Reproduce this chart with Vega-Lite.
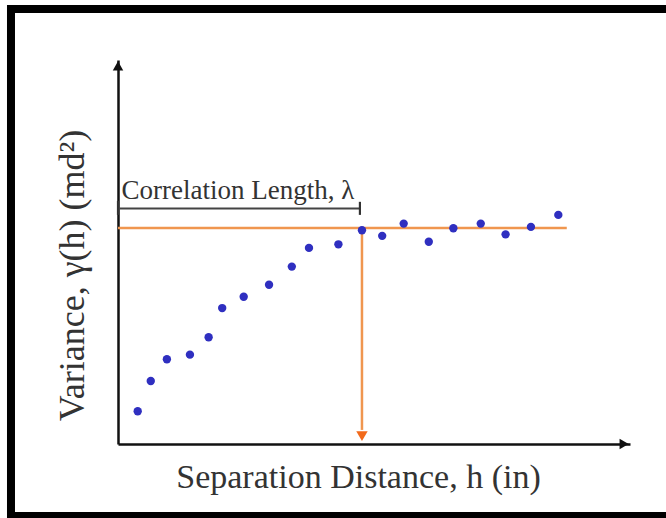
{
  "$schema": "https://vega.github.io/schema/vega-lite/v6.json",
  "width": 512,
  "height": 384,
  "autosize": {"type": "none"},
  "padding": {"left": 118, "top": 60, "right": 36, "bottom": 74},
  "background": "white",
  "config": {"view": {"stroke": null}},
  "encoding": {
    "x": {"field": "h", "type": "quantitative", "scale": {"domain": [0, 20], "nice": false, "zero": false},
      "axis": {"title": "Separation Distance, h (in)", "labels": false, "ticks": false, "grid": false,
        "domain": true, "domainColor": "#111", "domainWidth": 2.5,
        "titleFont": "Liberation Serif", "titleFontSize": 34, "titleFontWeight": "normal", "titleColor": "#333",
        "titleX": 240, "titleY": 43, "titleBaseline": "alphabetic", "titleAlign": "center"}},
    "y": {"field": "gamma", "type": "quantitative", "scale": {"domain": [0, 15], "nice": false, "zero": false},
      "axis": {"title": "Variance, γ(h) (md²)", "labels": false, "ticks": false, "grid": false,
        "domain": true, "domainColor": "#111", "domainWidth": 2.5,
        "titleFont": "Liberation Serif", "titleFontSize": 36, "titleFontWeight": "normal", "titleColor": "#333",
        "titleX": -35, "titleY": 215, "titleAngle": -90, "titleBaseline": "alphabetic", "titleAlign": "center"}}
  },
  "layer": [
    {
      "data": {"values": [{"h": -4.18, "h2": 24, "gamma": -2.81, "gamma2": 16.99}]},
      "mark": {"type": "rect", "fill": null, "stroke": "black", "strokeWidth": 8, "clip": false},
      "encoding": {"x2": {"field": "h2"}, "y2": {"field": "gamma2"}}
    },
    {
      "data": {"values": [{"h": 0, "h2": 17.53, "gamma": 8.44}]},
      "mark": {"type": "rule", "color": "#f0964f", "strokeWidth": 2.5},
      "encoding": {"x2": {"field": "h2"}}
    },
    {
      "data": {"values": [{"h": 9.53, "gamma": 8.44, "gamma2": 0.55}]},
      "mark": {"type": "rule", "color": "#f0964f", "strokeWidth": 2.5},
      "encoding": {"y2": {"field": "gamma2"}}
    },
    {
      "data": {"values": [{"h": 9.53, "gamma": 0.31}]},
      "mark": {"type": "point", "shape": "triangle-down", "filled": true, "color": "#f26a1b", "size": 130, "opacity": 1}
    },
    {
      "data": {"values": [{"h": 0, "h2": 9.45, "gamma": 9.2}]},
      "mark": {"type": "rule", "color": "#444", "strokeWidth": 2.2},
      "encoding": {"x2": {"field": "h2"}}
    },
    {
      "data": {"values": [{"h": 0, "gamma": 8.95, "gamma2": 9.5}, {"h": 9.45, "gamma": 8.95, "gamma2": 9.46}]},
      "mark": {"type": "rule", "color": "#333", "strokeWidth": 2.2},
      "encoding": {"y2": {"field": "gamma2"}}
    },
    {
      "data": {"values": [{"h": 0.14, "gamma": 9.56, "label": "Correlation Length, λ"}]},
      "mark": {"type": "text", "align": "left", "baseline": "alphabetic", "font": "Liberation Serif", "fontSize": 27, "color": "#333"},
      "encoding": {"text": {"field": "label"}}
    },
    {
      "data": {"values": [{"h": 0, "gamma": 14.77, "shape": "triangle-up"}, {"h": 19.77, "gamma": 0, "shape": "triangle-right"}]},
      "mark": {"type": "point", "filled": true, "color": "#111", "size": 110, "opacity": 1},
      "encoding": {"shape": {"field": "shape", "type": "nominal", "scale": null}}
    },
    {
      "data": {"values": [
        {"h": 0.77, "gamma": 1.28}, {"h": 1.28, "gamma": 2.46}, {"h": 1.91, "gamma": 3.31}, {"h": 2.81, "gamma": 3.49},
        {"h": 3.54, "gamma": 4.17}, {"h": 4.07, "gamma": 5.31}, {"h": 4.91, "gamma": 5.75}, {"h": 5.90, "gamma": 6.22},
        {"h": 6.79, "gamma": 6.93}, {"h": 7.46, "gamma": 7.66}, {"h": 8.61, "gamma": 7.80}, {"h": 9.53, "gamma": 8.35},
        {"h": 10.32, "gamma": 8.13}, {"h": 11.16, "gamma": 8.61}, {"h": 12.14, "gamma": 7.90}, {"h": 13.10, "gamma": 8.43},
        {"h": 14.17, "gamma": 8.61}, {"h": 15.14, "gamma": 8.19}, {"h": 16.13, "gamma": 8.48}, {"h": 17.20, "gamma": 8.95}
      ]},
      "mark": {"type": "circle", "color": "#2f2fc0", "size": 70, "opacity": 1}
    }
  ]
}
